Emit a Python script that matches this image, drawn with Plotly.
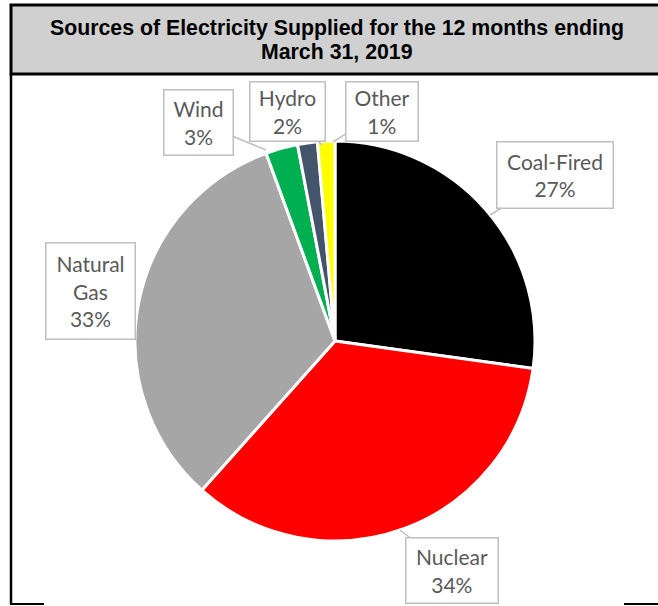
import plotly.graph_objects as go

W, H = 658, 606

categories = ["Coal-Fired", "Nuclear", "Natural Gas", "Wind", "Hydro", "Other"]
shares = [27.2, 34.4, 32.8, 2.6, 1.6, 1.4]
colors = ["#000000", "#ff0000", "#a6a6a6", "#00b050", "#44546a", "#ffff00"]
label_text = ["Coal-Fired", "Nuclear", "Natural<br>Gas", "Wind", "Hydro", "Other"]
title_lines = ["Sources of Electricity Supplied for the 12 months ending", "March 31, 2019"]


def px(x):
    return x / W


def py(y):
    return 1 - y / H


cx, cy, r = 335, 341, 200

fig = go.Figure(go.Pie(
    labels=categories,
    values=shares,
    sort=False,
    direction="clockwise",
    rotation=0,
    marker=dict(colors=colors, line=dict(color="white", width=3)),
    textinfo="none",
    hoverinfo="label+percent",
    domain=dict(x=[px(cx - r), px(cx + r)], y=[py(cy + r), py(cy - r)]),
    showlegend=False,
))

# label boxes: center pixel, size, arrow tip (None = no tail)
boxes = [
    ((555, 175), (113, 63), (490, 215)),
    ((452, 570), (89, 62), (400, 530)),
    ((90, 291), (86, 93), None),
    ((198, 122), (66, 62), (266, 150)),
    ((287, 111), (72, 56), (322, 145)),
    ((382, 111), (69, 56), (333, 142)),
]

annotations = []
for name, val, (c, size, tip) in zip(label_text, shares, boxes):
    pct = round(val / sum(shares) * 100)
    txt = f"{name}<br>{pct}%"
    common = dict(
        text=txt, xref="paper", yref="paper",
        font=dict(family="Lato, Carlito, Calibri, sans-serif", size=21, color="#595959"),
        bgcolor="white", bordercolor="#bfbfbf", borderwidth=1.5, borderpad=1,
        width=size[0], height=size[1], align="center", valign="middle",
    )
    if tip is None:
        annotations.append(dict(x=px(c[0]), y=py(c[1]), showarrow=False,
                                xanchor="center", yanchor="middle", **common))
    else:
        annotations.append(dict(x=px(tip[0]), y=py(tip[1]), showarrow=True,
                                ax=c[0] - tip[0], ay=c[1] - tip[1],
                                arrowhead=0, arrowwidth=1.5, arrowcolor="#bfbfbf",
                                **common))

for line, ypix in zip(title_lines, [28, 52]):
    annotations.append(dict(
        text=f"<b>{line}</b>", xref="paper", yref="paper",
        x=px(337), y=py(ypix), xanchor="center", yanchor="middle", showarrow=False,
        font=dict(family="Liberation Sans, Arial, sans-serif", size=21.3, color="black"),
    ))

shapes = [
    dict(type="rect", xref="paper", yref="paper", x0=px(11), x1=px(W + 20),
         y0=py(74), y1=py(5), fillcolor="#d0d0d0", line=dict(color="black", width=3),
         layer="below"),
    dict(type="line", xref="paper", yref="paper", x0=px(11), x1=px(11),
         y0=py(74), y1=py(604), line=dict(color="black", width=2.5)),
    dict(type="line", xref="paper", yref="paper", x0=px(10), x1=px(44),
         y0=py(604), y1=py(604), line=dict(color="black", width=2)),
    dict(type="line", xref="paper", yref="paper", x0=px(624), x1=px(W),
         y0=py(604), y1=py(604), line=dict(color="black", width=2)),
]

fig.update_layout(
    width=W, height=H,
    margin=dict(l=0, r=0, t=0, b=0),
    paper_bgcolor="white", plot_bgcolor="white",
    annotations=annotations, shapes=shapes,
)

fig.write_html(
    "out.html",
    config={"displayModeBar": False},
    post_script="document.body.style.margin='0';document.body.style.overflow='hidden';",
)
